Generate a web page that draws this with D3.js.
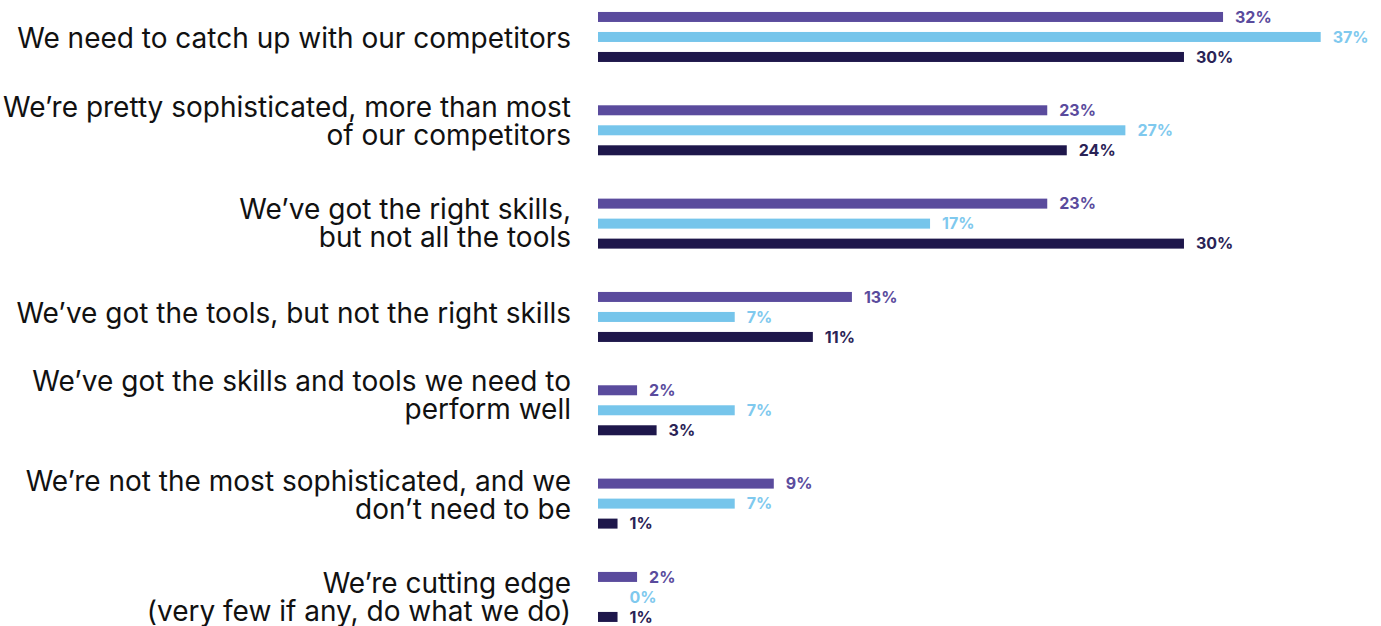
<!DOCTYPE html>
<html>
<head>
<meta charset="utf-8">
<script src="https://cdn.jsdelivr.net/npm/d3@7"></script>
<style>
  html, body { margin: 0; padding: 0; background: #ffffff; }
  svg { display: block; }
</style>
</head>
<body>
<svg id="chart" width="1381" height="626"></svg>
<script>
// Survey answers (one group of bars per statement), line breaks marked with "\n"
const categories = [
  "We need to catch up with our competitors",
  "We\u2019re pretty sophisticated, more than most\nof our competitors",
  "We\u2019ve got the right skills,\nbut not all the tools",
  "We\u2019ve got the tools, but not the right skills",
  "We\u2019ve got the skills and tools we need to\nperform well",
  "We\u2019re not the most sophisticated, and we\ndon\u2019t need to be",
  "We\u2019re cutting edge\n(very few if any, do what we do)"
];

// Share of respondents (%) for each of the three respondent groups
const seriesKeys = ["s1", "s2", "s3"];
const seriesA = [32, 23, 23, 13, 2, 9, 2];
const seriesB = [37, 27, 17, 7, 7, 7, 0];
const seriesC = [30, 24, 30, 11, 3, 1, 1];

// Vertical nudge (px) of each statement label relative to its bar group
const labelShift = [1, -9, 0, -4, -15, -8, 0];

const barColors = { s1: "#5a4b9d", s2: "#76c5eb", s3: "#1e174b" };
const labelColors = { s1: "#5a4b9d", s2: "#7fc9ee", s3: "#2a2356" };

const rows = categories.map((c, i) => ({
  category: c,
  shift: labelShift[i],
  values: { s1: seriesA[i], s2: seriesB[i], s3: seriesC[i] }
}));

const svg = d3.select("#chart");

const x = d3.scaleLinear().domain([0, 37]).range([598, 1320.7]);

const y = d3.scaleBand()
  .domain(categories)
  .range([-9.7, 643.6])
  .paddingInner(0)
  .paddingOuter(0);

const yInner = d3.scaleBand()
  .domain(seriesKeys)
  .range([y.bandwidth() / 2 - 30, y.bandwidth() / 2 + 30])
  .paddingInner(0.5)
  .paddingOuter(0.25);

const groups = svg.selectAll("g.group")
  .data(rows)
  .join("g")
  .attr("class", "group")
  .attr("transform", d => `translate(0,${y(d.category)})`);

// bars
groups.selectAll("rect")
  .data(d => seriesKeys.map(k => ({ key: k, value: d.values[k] })))
  .join("rect")
  .attr("x", x(0))
  .attr("y", d => yInner(d.key))
  .attr("width", d => x(d.value) - x(0))
  .attr("height", yInner.bandwidth())
  .attr("fill", d => barColors[d.key]);

// value labels, kept clear of the axis for very short bars
groups.selectAll("text.value")
  .data(d => seriesKeys.map(k => ({ key: k, value: d.values[k] })))
  .join("text")
  .attr("class", "value")
  .attr("x", d => Math.max(x(d.value), x(1)) + 12)
  .attr("y", d => yInner(d.key) + yInner.bandwidth() / 2)
  .attr("dy", "0.36em")
  .attr("fill", d => labelColors[d.key])
  .style("font-family", "Inter, 'Open Sans', sans-serif")
  .style("font-weight", 700)
  .style("font-size", "16px")
  .text(d => `${d.value}%`);

// statement labels, right-aligned beside each group
const lineHeight = 28;
groups.append("text")
  .attr("class", "category")
  .attr("text-anchor", "end")
  .attr("fill", "#111111")
  .style("font-family", "Inter, 'Open Sans', sans-serif")
  .style("font-size", "28px")
  .each(function(d) {
    const lines = d.category.split("\n");
    const mid = y.bandwidth() / 2 + d.shift;
    const start = mid - (lines.length - 1) * lineHeight / 2;
    d3.select(this).selectAll("tspan")
      .data(lines)
      .join("tspan")
      .attr("x", 571)
      .attr("y", (l, i) => start + i * lineHeight)
      .attr("dy", "0.35em")
      .text(l => l);
  });
</script>
</body>
</html>
